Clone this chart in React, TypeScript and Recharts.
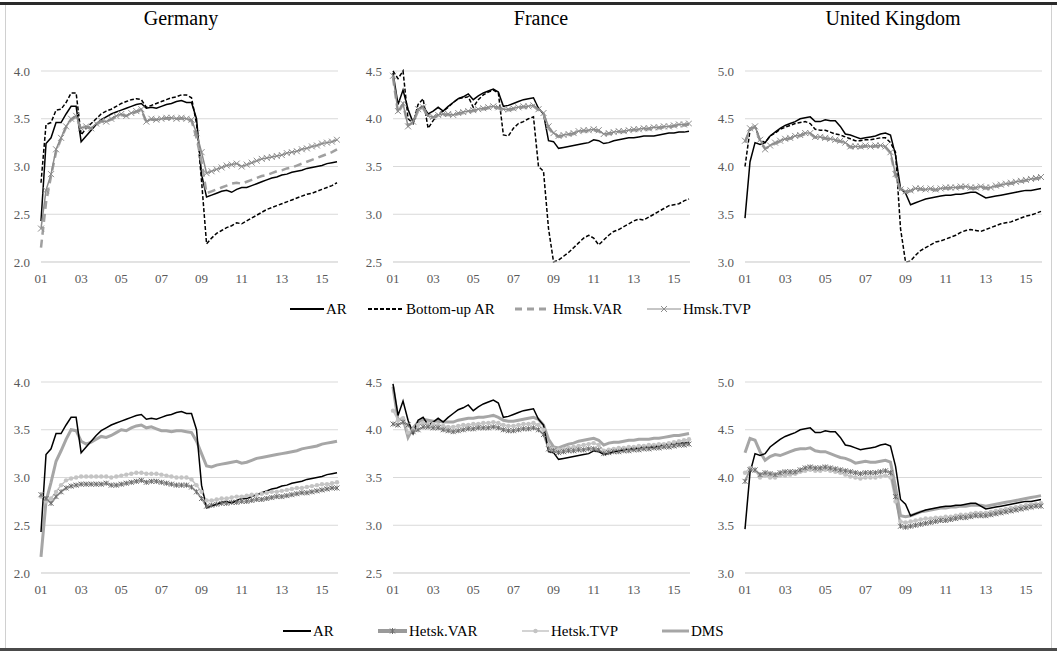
import { LineChart, Line, XAxis, YAxis, CartesianGrid } from 'recharts';

// quarterly observations, 2001Q1 .. 2015Q4
const quarters = Array.from({ length: 60 }, (_, i) => 2001 + i / 4);
const yearTicks = [2001, 2003, 2005, 2007, 2009, 2011, 2013, 2015];
const deTicks = [2.0, 2.5, 3.0, 3.5, 4.0];
const frTicks = [2.5, 3.0, 3.5, 4.0, 4.5];
const ukTicks = [3.0, 3.5, 4.0, 4.5, 5.0];

// ---- Germany ----
const deAR = [2.43, 3.24, 3.30, 3.46, 3.46, 3.55, 3.63, 3.63, 3.26, 3.32, 3.38, 3.44, 3.49, 3.52, 3.55, 3.57, 3.59, 3.61, 3.63, 3.65, 3.66, 3.61, 3.62, 3.61, 3.63, 3.65, 3.66, 3.68, 3.69, 3.67, 3.67, 3.50, 2.92, 2.68, 2.70, 2.72, 2.74, 2.75, 2.73, 2.76, 2.78, 2.78, 2.80, 2.82, 2.84, 2.86, 2.88, 2.89, 2.91, 2.92, 2.94, 2.95, 2.96, 2.98, 2.99, 3.00, 3.01, 3.03, 3.04, 3.05];
const deBottomUp = [2.83, 3.44, 3.46, 3.59, 3.60, 3.67, 3.77, 3.77, 3.33, 3.40, 3.45, 3.50, 3.55, 3.58, 3.60, 3.63, 3.66, 3.68, 3.70, 3.71, 3.70, 3.62, 3.64, 3.66, 3.68, 3.70, 3.72, 3.73, 3.75, 3.75, 3.72, 3.45, 2.85, 2.19, 2.25, 2.30, 2.33, 2.36, 2.38, 2.41, 2.40, 2.43, 2.46, 2.49, 2.52, 2.55, 2.57, 2.59, 2.61, 2.63, 2.65, 2.67, 2.69, 2.71, 2.72, 2.74, 2.76, 2.78, 2.80, 2.83];
const deHmskVar = [2.15, 2.62, 2.90, 3.15, 3.29, 3.41, 3.49, 3.52, 3.39, 3.41, 3.40, 3.44, 3.47, 3.47, 3.49, 3.52, 3.54, 3.53, 3.55, 3.57, 3.59, 3.47, 3.49, 3.49, 3.50, 3.50, 3.50, 3.50, 3.50, 3.49, 3.48, 3.30, 3.05, 2.72, 2.74, 2.76, 2.78, 2.80, 2.82, 2.83, 2.82, 2.84, 2.86, 2.88, 2.90, 2.91, 2.93, 2.95, 2.96, 2.98, 2.99, 3.01, 3.03, 3.05, 3.07, 3.09, 3.11, 3.13, 3.15, 3.18];
const deHmskTvp = [2.35, 2.75, 2.92, 3.18, 3.30, 3.42, 3.50, 3.53, 3.40, 3.42, 3.40, 3.45, 3.48, 3.47, 3.50, 3.53, 3.55, 3.53, 3.56, 3.58, 3.60, 3.47, 3.50, 3.49, 3.50, 3.51, 3.51, 3.50, 3.51, 3.50, 3.49, 3.35, 3.15, 2.93, 2.95, 2.97, 2.99, 3.01, 3.02, 3.03, 3.00, 3.02, 3.04, 3.06, 3.08, 3.09, 3.10, 3.11, 3.12, 3.14, 3.15, 3.16, 3.18, 3.19, 3.21, 3.22, 3.24, 3.25, 3.26, 3.28];
const deHetskVar = [2.82, 2.78, 2.73, 2.80, 2.85, 2.89, 2.91, 2.92, 2.93, 2.93, 2.93, 2.93, 2.93, 2.94, 2.92, 2.92, 2.93, 2.94, 2.95, 2.96, 2.97, 2.95, 2.96, 2.96, 2.95, 2.94, 2.93, 2.92, 2.92, 2.92, 2.90, 2.85, 2.78, 2.70, 2.71, 2.72, 2.73, 2.73, 2.74, 2.74, 2.75, 2.75, 2.76, 2.77, 2.77, 2.78, 2.79, 2.80, 2.80, 2.81, 2.82, 2.83, 2.84, 2.84, 2.85, 2.86, 2.87, 2.88, 2.89, 2.89];
const deHetskTvp = [2.80, 2.75, 2.78, 2.85, 2.92, 2.97, 2.99, 3.00, 3.01, 3.01, 3.01, 3.01, 3.01, 3.01, 3.00, 3.01, 3.02, 3.03, 3.04, 3.05, 3.05, 3.04, 3.04, 3.04, 3.03, 3.02, 3.01, 3.00, 3.00, 3.00, 2.98, 2.92, 2.85, 2.76, 2.76, 2.77, 2.78, 2.78, 2.79, 2.80, 2.80, 2.81, 2.82, 2.82, 2.83, 2.84, 2.85, 2.85, 2.86, 2.87, 2.88, 2.89, 2.89, 2.90, 2.91, 2.92, 2.93, 2.93, 2.94, 2.95];
const deDms = [2.17, 2.75, 2.95, 3.17, 3.28, 3.40, 3.50, 3.49, 3.38, 3.35, 3.37, 3.40, 3.43, 3.42, 3.44, 3.47, 3.50, 3.49, 3.52, 3.54, 3.55, 3.52, 3.53, 3.51, 3.49, 3.49, 3.48, 3.49, 3.49, 3.48, 3.47, 3.38, 3.25, 3.12, 3.11, 3.13, 3.14, 3.15, 3.16, 3.17, 3.15, 3.16, 3.18, 3.20, 3.21, 3.22, 3.23, 3.24, 3.25, 3.26, 3.27, 3.28, 3.30, 3.31, 3.32, 3.33, 3.35, 3.36, 3.37, 3.38];

// ---- France ----
const frAR = [4.48, 4.15, 4.30, 4.10, 3.96, 4.10, 4.13, 4.05, 4.08, 4.12, 4.08, 4.13, 4.17, 4.21, 4.23, 4.26, 4.20, 4.24, 4.27, 4.29, 4.31, 4.28, 4.13, 4.14, 4.16, 4.18, 4.20, 4.21, 4.22, 4.11, 4.05, 3.77, 3.76, 3.69, 3.70, 3.71, 3.72, 3.73, 3.74, 3.75, 3.78, 3.77, 3.74, 3.75, 3.77, 3.78, 3.79, 3.80, 3.80, 3.81, 3.82, 3.82, 3.82, 3.83, 3.84, 3.85, 3.85, 3.86, 3.86, 3.87];
const frBottomUp = [4.50, 4.42, 4.50, 4.00, 3.95, 4.15, 4.21, 3.90, 3.98, 4.05, 4.08, 4.12, 4.17, 4.21, 4.22, 4.23, 4.12, 4.20, 4.25, 4.28, 4.30, 4.27, 3.83, 3.82, 3.90, 3.95, 3.97, 4.00, 4.02, 3.50, 3.45, 2.85, 2.50, 2.52, 2.56, 2.60, 2.65, 2.70, 2.75, 2.78, 2.75, 2.68, 2.73, 2.78, 2.82, 2.84, 2.87, 2.90, 2.93, 2.95, 2.94, 2.97, 3.00, 3.03, 3.06, 3.09, 3.10, 3.11, 3.14, 3.16];
const frHmskVar = [4.43, 4.06, 4.15, 3.93, 3.96, 4.08, 4.11, 4.02, 4.01, 4.03, 4.04, 4.04, 4.03, 4.05, 4.06, 4.07, 4.08, 4.09, 4.10, 4.11, 4.12, 4.11, 4.09, 4.09, 4.10, 4.11, 4.12, 4.12, 4.13, 4.09, 4.05, 3.90, 3.84, 3.81, 3.82, 3.83, 3.84, 3.86, 3.87, 3.87, 3.88, 3.87, 3.83, 3.84, 3.85, 3.86, 3.86, 3.87, 3.88, 3.88, 3.89, 3.89, 3.90, 3.90, 3.91, 3.91, 3.92, 3.93, 3.93, 3.94];
const frHmskTvp = [4.45, 4.08, 4.16, 3.92, 3.97, 4.10, 4.12, 4.03, 4.02, 4.04, 4.05, 4.05, 4.04, 4.06, 4.07, 4.08, 4.09, 4.10, 4.11, 4.12, 4.13, 4.12, 4.10, 4.10, 4.11, 4.12, 4.13, 4.13, 4.14, 4.10, 4.06, 3.92, 3.85, 3.82, 3.83, 3.84, 3.85, 3.87, 3.88, 3.88, 3.89, 3.88, 3.84, 3.85, 3.86, 3.87, 3.87, 3.88, 3.89, 3.89, 3.90, 3.90, 3.91, 3.91, 3.92, 3.92, 3.93, 3.94, 3.94, 3.95];
const frHetskVar = [4.06, 4.05, 4.08, 4.05, 3.98, 4.00, 4.03, 4.03, 4.02, 4.02, 4.00, 3.99, 3.98, 3.99, 4.00, 4.01, 4.01, 4.02, 4.02, 4.02, 4.03, 4.02, 4.00, 3.99, 3.99, 4.00, 4.01, 4.01, 4.02, 4.00, 3.95, 3.80, 3.78, 3.76, 3.77, 3.78, 3.78, 3.79, 3.79, 3.80, 3.80, 3.79, 3.75, 3.76, 3.77, 3.77, 3.78, 3.78, 3.79, 3.79, 3.80, 3.80, 3.81, 3.81, 3.82, 3.82, 3.83, 3.84, 3.84, 3.85];
const frHetskTvp = [4.20, 4.10, 4.12, 3.97, 4.00, 4.05, 4.07, 4.06, 4.06, 4.05, 4.04, 4.03, 4.03, 4.04, 4.05, 4.05, 4.06, 4.06, 4.07, 4.07, 4.08, 4.07, 4.05, 4.04, 4.04, 4.05, 4.06, 4.06, 4.07, 4.05, 4.00, 3.84, 3.80, 3.79, 3.80, 3.81, 3.82, 3.83, 3.84, 3.85, 3.86, 3.84, 3.78, 3.79, 3.80, 3.81, 3.81, 3.82, 3.82, 3.83, 3.83, 3.84, 3.84, 3.85, 3.85, 3.86, 3.87, 3.88, 3.89, 3.90];
const frDms = [4.45, 4.10, 4.12, 3.92, 4.02, 4.08, 4.11, 4.10, 4.09, 4.09, 4.08, 4.08, 4.08, 4.10, 4.11, 4.12, 4.12, 4.13, 4.13, 4.14, 4.15, 4.13, 4.10, 4.09, 4.09, 4.10, 4.11, 4.12, 4.13, 4.11, 4.05, 3.90, 3.82, 3.81, 3.83, 3.85, 3.86, 3.88, 3.89, 3.90, 3.91, 3.89, 3.84, 3.86, 3.87, 3.87, 3.88, 3.89, 3.89, 3.90, 3.90, 3.90, 3.91, 3.91, 3.92, 3.93, 3.94, 3.94, 3.95, 3.96];

// ---- United Kingdom ----
const ukAR = [3.46, 4.05, 4.25, 4.23, 4.25, 4.32, 4.36, 4.40, 4.43, 4.45, 4.47, 4.50, 4.51, 4.52, 4.47, 4.47, 4.49, 4.48, 4.48, 4.42, 4.34, 4.33, 4.31, 4.29, 4.30, 4.31, 4.32, 4.34, 4.35, 4.33, 4.12, 3.77, 3.72, 3.60, 3.62, 3.64, 3.66, 3.67, 3.68, 3.69, 3.70, 3.70, 3.71, 3.71, 3.72, 3.73, 3.73, 3.70, 3.67, 3.68, 3.69, 3.70, 3.71, 3.72, 3.73, 3.74, 3.75, 3.75, 3.76, 3.77];
const ukBottomUp = [4.00, 4.38, 4.42, 4.28, 4.25, 4.32, 4.35, 4.39, 4.41, 4.43, 4.45, 4.46, 4.47, 4.45, 4.39, 4.38, 4.38, 4.36, 4.34, 4.33, 4.31, 4.29, 4.27, 4.27, 4.28, 4.28, 4.29, 4.30, 4.30, 4.25, 4.15, 3.35, 3.00, 3.01, 3.07, 3.12, 3.15, 3.18, 3.21, 3.22, 3.24, 3.26, 3.28, 3.31, 3.33, 3.34, 3.33, 3.32, 3.34, 3.36, 3.38, 3.40, 3.41, 3.42, 3.44, 3.46, 3.48, 3.49, 3.51, 3.53];
const ukHmskVar = [4.25, 4.39, 4.41, 4.27, 4.19, 4.21, 4.24, 4.26, 4.28, 4.29, 4.31, 4.32, 4.34, 4.34, 4.30, 4.30, 4.29, 4.28, 4.27, 4.26, 4.24, 4.20, 4.20, 4.20, 4.21, 4.20, 4.21, 4.21, 4.20, 4.14, 3.90, 3.75, 3.73, 3.74, 3.76, 3.76, 3.75, 3.76, 3.75, 3.76, 3.77, 3.77, 3.77, 3.78, 3.78, 3.77, 3.77, 3.78, 3.77, 3.77, 3.79, 3.80, 3.81, 3.82, 3.83, 3.84, 3.85, 3.86, 3.87, 3.88];
const ukHmskTvp = [4.27, 4.40, 4.42, 4.28, 4.18, 4.22, 4.25, 4.27, 4.29, 4.30, 4.32, 4.33, 4.35, 4.35, 4.31, 4.31, 4.30, 4.29, 4.28, 4.27, 4.25, 4.21, 4.21, 4.21, 4.22, 4.21, 4.22, 4.22, 4.21, 4.15, 3.92, 3.76, 3.74, 3.75, 3.77, 3.77, 3.76, 3.77, 3.76, 3.77, 3.78, 3.78, 3.78, 3.79, 3.79, 3.78, 3.78, 3.79, 3.78, 3.78, 3.80, 3.81, 3.82, 3.83, 3.84, 3.85, 3.86, 3.87, 3.88, 3.89];
const ukHetskVar = [3.96, 4.08, 4.08, 4.03, 4.05, 4.04, 4.03, 4.05, 4.06, 4.06, 4.06, 4.08, 4.10, 4.11, 4.10, 4.10, 4.11, 4.10, 4.09, 4.08, 4.07, 4.06, 4.05, 4.04, 4.05, 4.05, 4.05, 4.06, 4.07, 4.05, 3.80, 3.49, 3.48, 3.49, 3.50, 3.51, 3.52, 3.53, 3.54, 3.55, 3.55, 3.56, 3.57, 3.58, 3.58, 3.59, 3.60, 3.60, 3.60, 3.61, 3.62, 3.63, 3.64, 3.65, 3.66, 3.67, 3.68, 3.69, 3.70, 3.70];
const ukHetskTvp = [4.05, 4.10, 4.07, 4.00, 4.02, 4.00, 4.00, 4.02, 4.02, 4.03, 4.04, 4.06, 4.07, 4.08, 4.07, 4.07, 4.08, 4.07, 4.06, 4.05, 4.03, 4.01, 4.00, 3.99, 4.00, 4.00, 4.00, 4.01, 4.02, 4.00, 3.75, 3.54, 3.53, 3.54, 3.55, 3.56, 3.57, 3.57, 3.58, 3.58, 3.59, 3.59, 3.60, 3.61, 3.61, 3.62, 3.63, 3.63, 3.63, 3.64, 3.65, 3.66, 3.67, 3.68, 3.69, 3.70, 3.71, 3.72, 3.72, 3.73];
const ukDms = [4.26, 4.41, 4.39, 4.27, 4.18, 4.22, 4.24, 4.23, 4.25, 4.27, 4.29, 4.30, 4.30, 4.31, 4.28, 4.27, 4.27, 4.25, 4.23, 4.21, 4.20, 4.18, 4.15, 4.16, 4.17, 4.16, 4.16, 4.17, 4.18, 4.16, 3.90, 3.60, 3.59, 3.60, 3.62, 3.64, 3.65, 3.66, 3.67, 3.68, 3.68, 3.69, 3.69, 3.70, 3.70, 3.71, 3.71, 3.71, 3.70, 3.71, 3.72, 3.73, 3.74, 3.75, 3.76, 3.77, 3.78, 3.79, 3.80, 3.81];

const FONT = '"Liberation Serif", "Times New Roman", Times, serif';
const TICK = { fill: '#595959', fontSize: 13, fontFamily: FONT };

// ─── marker shapes ───
const crossDot = (color: string, s: number) => (p: any) => {
  const { cx, cy, index } = p;
  if (cx == null || cy == null) return <g key={`c${index}`} />;
  return (
    <path
      key={`c${index}`}
      d={`M${cx - s},${cy - s}L${cx + s},${cy + s}M${cx - s},${cy + s}L${cx + s},${cy - s}`}
      stroke={color}
      strokeWidth={1}
      fill="none"
    />
  );
};

const starDot = (color: string, s: number) => (p: any) => {
  const { cx, cy, index } = p;
  if (cx == null || cy == null) return <g key={`s${index}`} />;
  return (
    <path
      key={`s${index}`}
      d={`M${cx - s},${cy - s}L${cx + s},${cy + s}M${cx - s},${cy + s}L${cx + s},${cy - s}M${cx},${cy - s}L${cx},${cy + s}`}
      stroke={color}
      strokeWidth={1}
      fill="none"
    />
  );
};

const roundDot = (color: string, r: number) => (p: any) => {
  const { cx, cy, index } = p;
  if (cx == null || cy == null) return <g key={`r${index}`} />;
  return <circle key={`r${index}`} cx={cx} cy={cy} r={r} fill={color} stroke="none" />;
};

const STYLES: Record<string, any> = {
  ar: { stroke: '#000', strokeWidth: 1.5, dot: false },
  bottomUp: { stroke: '#000', strokeWidth: 1.5, strokeDasharray: '4 2', dot: false },
  hmskVar: { stroke: '#a0a0a0', strokeWidth: 2.5, strokeDasharray: '8 5', dot: false },
  hmskTvp: { stroke: '#8c8c8c', strokeWidth: 1.5, dot: crossDot('#8c8c8c', 3) },
  dms: { stroke: '#a6a6a6', strokeWidth: 3, dot: false },
  hetskTvp: { stroke: '#c4c4c4', strokeWidth: 1.5, dot: roundDot('#c4c4c4', 2.2) },
  hetskVar: { stroke: '#9a9a9a', strokeWidth: 2, dot: starDot('#6e6e6e', 2.5) },
};

type Series = { key: string; values: number[] };

function Panel({ left, top, ticks, series }: { left: number; top: number; ticks: number[]; series: Series[] }) {
  const data = quarters.map((t, i) => {
    const row: any = { t };
    series.forEach((s) => (row[s.key] = s.values[i]));
    return row;
  });
  return (
    <div style={{ position: 'absolute', left, top }}>
      <LineChart width={340} height={232} data={data} margin={{ top: 11, right: 2, left: 0, bottom: 0 }}>
        <CartesianGrid vertical={false} stroke="#d9d9d9" />
        <XAxis
          dataKey="t"
          type="number"
          domain={[2001, 2015.8]}
          ticks={yearTicks}
          tickFormatter={(v) => String(v % 100).padStart(2, '0')}
          axisLine={{ stroke: '#d9d9d9' }}
          tickLine={false}
          tick={TICK}
          tickMargin={6}
          height={30}
        />
        <YAxis
          domain={[ticks[0], ticks[ticks.length - 1]]}
          ticks={ticks}
          tickFormatter={(v) => v.toFixed(1)}
          axisLine={false}
          tickLine={false}
          tick={TICK}
          tickMargin={5}
          width={41}
        />
        {series.map((s) => (
          <Line key={s.key} dataKey={s.key} type="linear" isAnimationActive={false} {...STYLES[s.key]} />
        ))}
      </LineChart>
    </div>
  );
}

function LegendItem({ x, y, label, icon }: { x: number; y: number; label: string; icon: any }) {
  return (
    <div style={{ position: 'absolute', left: x, top: y - 10, height: 20, display: 'flex', alignItems: 'center', fontFamily: FONT, fontSize: 15, color: '#000', whiteSpace: 'nowrap' }}>
      {icon}
      <span style={{ marginLeft: 2 }}>{label}</span>
    </div>
  );
}

const icon = (w: number, children: any) => (
  <svg width={w} height={12} style={{ display: 'block' }}>
    {children}
  </svg>
);

export default function App() {
  const topRow = (ar: number[], bu: number[], hv: number[], ht: number[]) => [
    { key: 'ar', values: ar },
    { key: 'bottomUp', values: bu },
    { key: 'hmskVar', values: hv },
    { key: 'hmskTvp', values: ht },
  ];
  const bottomRow = (ar: number[], dms: number[], tv: number[], va: number[]) => [
    { key: 'dms', values: dms },
    { key: 'hetskTvp', values: tv },
    { key: 'hetskVar', values: va },
    { key: 'ar', values: ar },
  ];
  const titleStyle: any = { position: 'absolute', top: 7, width: 300, textAlign: 'center', fontFamily: FONT, fontSize: 20, color: '#000' };

  return (
    <div style={{ position: 'relative', width: 1057, height: 651, background: '#fff', overflow: 'hidden' }}>
      <style>{'body{margin:0}'}</style>
      {/* frame */}
      <div style={{ position: 'absolute', left: 0, top: 2, width: 1057, height: 3, background: '#2a2a2a' }} />
      <div style={{ position: 'absolute', left: 0, top: 648, width: 1057, height: 3, background: '#4a4a4a' }} />
      <div style={{ position: 'absolute', left: 5, top: 5, width: 1, height: 643, background: '#d0d0d0' }} />
      <div style={{ position: 'absolute', left: 1051, top: 5, width: 1, height: 643, background: '#d0d0d0' }} />

      <div style={{ ...titleStyle, left: 31 }}>Germany</div>
      <div style={{ ...titleStyle, left: 391 }}>France</div>
      <div style={{ ...titleStyle, left: 743 }}>United Kingdom</div>

      <Panel left={0} top={60} ticks={deTicks} series={topRow(deAR, deBottomUp, deHmskVar, deHmskTvp)} />
      <Panel left={352} top={60} ticks={frTicks} series={topRow(frAR, frBottomUp, frHmskVar, frHmskTvp)} />
      <Panel left={704} top={60} ticks={ukTicks} series={topRow(ukAR, ukBottomUp, ukHmskVar, ukHmskTvp)} />

      <Panel left={0} top={371} ticks={deTicks} series={bottomRow(deAR, deDms, deHetskTvp, deHetskVar)} />
      <Panel left={352} top={371} ticks={frTicks} series={bottomRow(frAR, frDms, frHetskTvp, frHetskVar)} />
      <Panel left={704} top={371} ticks={ukTicks} series={bottomRow(ukAR, ukDms, ukHetskTvp, ukHetskVar)} />

      {/* ─── top legend ─── */}
      <LegendItem x={290} y={309} label="AR" icon={icon(34, <line x1={0} y1={6} x2={34} y2={6} stroke="#000" strokeWidth={2} />)} />
      <LegendItem x={368} y={309} label="Bottom-up AR" icon={icon(36, <line x1={0} y1={6} x2={36} y2={6} stroke="#000" strokeWidth={2} strokeDasharray="4 2" />)} />
      <LegendItem x={515} y={309} label="Hmsk.VAR" icon={icon(36, <line x1={0} y1={6} x2={36} y2={6} stroke="#a0a0a0" strokeWidth={3} strokeDasharray="7 5" />)} />
      <LegendItem
        x={647}
        y={309}
        label="Hmsk.TVP"
        icon={icon(34, <g><line x1={0} y1={6} x2={34} y2={6} stroke="#8c8c8c" strokeWidth={1} /><path d="M14,3L20,9M14,9L20,3" stroke="#8c8c8c" strokeWidth={1} /></g>)}
      />

      {/* ─── bottom legend ─── */}
      <LegendItem x={283} y={631} label="AR" icon={icon(28, <line x1={0} y1={6} x2={28} y2={6} stroke="#000" strokeWidth={2} />)} />
      <LegendItem
        x={378}
        y={631}
        label="Hetsk.VAR"
        icon={icon(29, <g><line x1={0} y1={6} x2={29} y2={6} stroke="#9a9a9a" strokeWidth={4} /><path d="M12,3.5L17,8.5M12,8.5L17,3.5M14.5,3L14.5,9" stroke="#6e6e6e" strokeWidth={1} /></g>)}
      />
      <LegendItem
        x={522}
        y={631}
        label="Hetsk.TVP"
        icon={icon(27, <g><line x1={0} y1={6} x2={27} y2={6} stroke="#c4c4c4" strokeWidth={1.5} /><circle cx={13.5} cy={6} r={2.2} fill="#c4c4c4" /></g>)}
      />
      <LegendItem x={662} y={631} label="DMS" icon={icon(27, <line x1={0} y1={6} x2={27} y2={6} stroke="#a6a6a6" strokeWidth={3} />)} />
    </div>
  );
}
